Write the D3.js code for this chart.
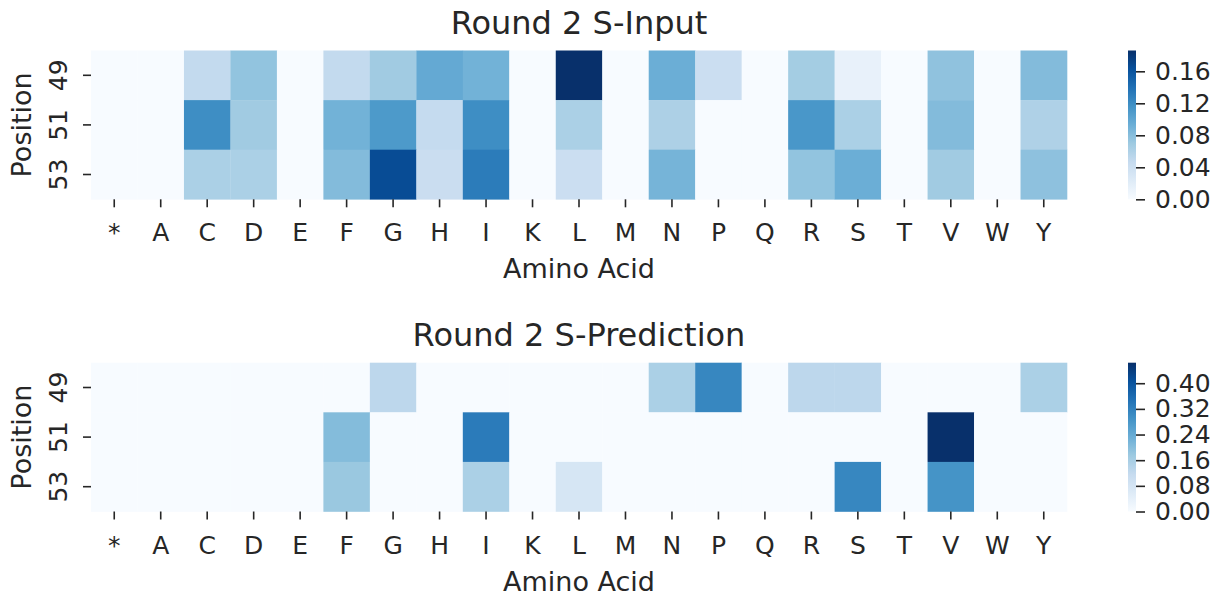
<!DOCTYPE html>
<html>
<head>
<meta charset="utf-8">
<script src="https://cdn.jsdelivr.net/npm/d3@7/dist/d3.min.js"></script>
<style>
  html, body { margin: 0; padding: 0; background: #fff; }
  svg text { font-family: "DejaVu Sans", sans-serif; fill: #262626; }
</style>
</head>
<body>
<svg id="chart" width="1228" height="596"></svg>
<script>
// ---- data ----
const aminoAcids = ["*","A","C","D","E","F","G","H","I","K","L","M","N","P","Q","R","S","T","V","W","Y"];
const positions = ["49","51","53"];

// Round 2 S-Input values (rows: 49, 51, 53)
const inputRow49 = [0,0,0.048,0.075,0,0.048,0.068,0.097,0.090,0,0.186,0,0.093,0.042,0,0.066,0.014,0,0.076,0,0.082];
const inputRow51 = [0,0,0.119,0.068,0,0.090,0.110,0.047,0.119,0,0.062,0,0.061,0,0,0.112,0.062,0,0.082,0,0.060];
const inputRow53 = [0,0,0.062,0.062,0,0.082,0.166,0.043,0.132,0,0.042,0,0.088,0,0,0.075,0.093,0,0.068,0,0.077];

// Round 2 S-Prediction values (rows: 49, 51, 53)
const predRow49 = [0,0,0,0,0,0,0.129,0,0,0,0,0,0.155,0.309,0,0.129,0.129,0,0,0,0.155];
const predRow51 = [0,0,0,0,0,0.204,0,0,0.330,0,0,0,0,0,0,0,0,0,0.464,0,0];
const predRow53 = [0,0,0,0,0,0.179,0,0,0.155,0,0.077,0,0,0,0,0,0.309,0,0.286,0,0];

const inputTicks = [0.00,0.04,0.08,0.12,0.16];
const predTicks = [0.00,0.08,0.16,0.24,0.32,0.40];

const titles = ["Round 2 S-Input","Round 2 S-Prediction"];
const xLabel = "Amino Acid";
const yLabel = "Position";

// matplotlib Blues stops
const bluesStops = ["#f7fbff","#deebf7","#c6dbef","#9ecae1","#6baed6","#4292c6","#2171b5","#08519c","#08306b"];
const blues = d3.scaleLinear()
  .domain(d3.range(bluesStops.length).map(i => i / (bluesStops.length - 1)))
  .range(bluesStops)
  .interpolate(d3.interpolateRgb)
  .clamp(true);

const svg = d3.select("#chart");
const defs = svg.append("defs");
const grad = defs.append("linearGradient").attr("id","bluesGrad")
  .attr("x1","0").attr("y1","1").attr("x2","0").attr("y2","0");
bluesStops.forEach((c,i) => grad.append("stop")
  .attr("offset", (i/(bluesStops.length-1)))
  .attr("stop-color", c));

const panels = [
  { title: titles[0], rows: [inputRow49, inputRow51, inputRow53], ticks: inputTicks, top: 50.5 },
  { title: titles[1], rows: [predRow49, predRow51, predRow53], ticks: predTicks, top: 362.7 }
];

const left = 91, right = 1067, hmH = 148.8;
const cbX = 1128, cbW = 8;
const tickLen = 8;
const tickColor = "#262626";

panels.forEach(p => {
  const g = svg.append("g");
  const x = d3.scaleBand().domain(aminoAcids).range([left, right]);
  const y = d3.scaleBand().domain(positions).range([p.top, p.top + hmH]);
  const vmax = d3.max(p.rows.flat());
  const color = v => blues(v / vmax);

  const cells = [];
  p.rows.forEach((row, ri) => row.forEach((v, ci) => cells.push({pos: positions[ri], aa: aminoAcids[ci], v})));

  g.selectAll("rect.cell").data(cells).join("rect")
    .attr("class","cell")
    .attr("x", d => x(d.aa))
    .attr("y", d => y(d.pos))
    .attr("width", x.bandwidth() + 0.3)
    .attr("height", y.bandwidth() + 0.3)
    .attr("fill", d => color(d.v));

  // x axis
  const xa = g.append("g").attr("transform", `translate(0,${p.top + hmH})`)
    .call(d3.axisBottom(x).tickSize(tickLen).tickPadding(6));
  xa.select(".domain").remove();
  xa.selectAll(".tick line").attr("stroke", tickColor).attr("stroke-width", 1.6);
  xa.selectAll(".tick text").attr("font-size", 25).attr("dy", null).attr("y", 0)
    .attr("transform", "translate(0,42)");

  // y axis
  const ya = g.append("g").attr("transform", `translate(${left},0)`)
    .call(d3.axisLeft(y).tickSize(tickLen).tickPadding(0));
  ya.select(".domain").remove();
  ya.selectAll(".tick line").attr("stroke", tickColor).attr("stroke-width", 1.6);
  ya.selectAll(".tick text")
    .attr("font-size", 25).attr("x", null).attr("dy", null)
    .attr("text-anchor", "middle")
    .attr("transform", "translate(-24,0) rotate(-90)");

  // axis labels
  g.append("text").attr("x", (left + right) / 2).attr("y", p.top + hmH + 79)
    .attr("text-anchor","middle").attr("font-size", 27).text(xLabel);
  g.append("text")
    .attr("transform", `translate(31,${p.top + hmH/2}) rotate(-90)`)
    .attr("text-anchor","middle").attr("font-size", 27).text(yLabel);

  // title
  g.append("text").attr("x", (left + right) / 2).attr("y", p.top - 17)
    .attr("text-anchor","middle").attr("font-size", 32).text(p.title);

  // colorbar
  g.append("rect").attr("x", cbX).attr("y", p.top).attr("width", cbW).attr("height", hmH)
    .attr("fill", "url(#bluesGrad)");
  const cs = d3.scaleLinear().domain([0, vmax]).range([p.top + hmH, p.top]);
  const ca = g.append("g").attr("transform", `translate(${cbX + cbW},0)`)
    .call(d3.axisRight(cs).tickValues(p.ticks).tickFormat(d3.format(".2f")).tickSize(9).tickPadding(10));
  ca.select(".domain").remove();
  ca.selectAll(".tick line").attr("stroke", tickColor).attr("stroke-width", 1.6);
  ca.selectAll(".tick text").attr("font-size", 25);
});
</script>
</body>
</html>
